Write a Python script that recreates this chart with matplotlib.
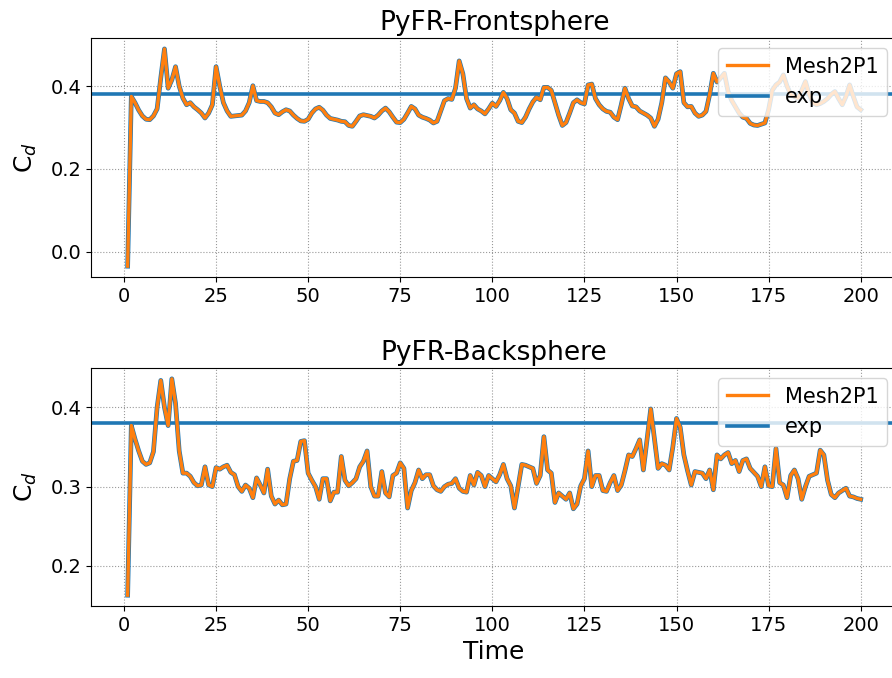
import numpy as np
import matplotlib
matplotlib.use("Agg")
import matplotlib.pyplot as plt

time = list(range(1, 201))

front_cd = [
    -0.035, 0.375, 0.360, 0.342, 0.328, 0.320, 0.319, 0.328, 0.345, 0.420,
    0.490, 0.395, 0.415, 0.447, 0.400, 0.371, 0.355, 0.360, 0.350, 0.343,
    0.335, 0.323, 0.335, 0.355, 0.447, 0.400, 0.360, 0.340, 0.327, 0.328,
    0.329, 0.330, 0.340, 0.360, 0.401, 0.365, 0.363, 0.363, 0.360, 0.350,
    0.335, 0.331, 0.338, 0.343, 0.340, 0.330, 0.322, 0.316, 0.315, 0.320,
    0.335, 0.345, 0.349, 0.342, 0.330, 0.322, 0.320, 0.318, 0.315, 0.314,
    0.305, 0.303, 0.315, 0.328, 0.331, 0.329, 0.327, 0.323, 0.330, 0.340,
    0.347, 0.338, 0.325, 0.313, 0.312, 0.320, 0.335, 0.351, 0.345, 0.330,
    0.325, 0.322, 0.318, 0.311, 0.315, 0.340, 0.365, 0.370, 0.368, 0.395,
    0.461, 0.430, 0.370, 0.347, 0.355, 0.345, 0.340, 0.333, 0.345, 0.359,
    0.351, 0.365, 0.385, 0.370, 0.343, 0.335, 0.315, 0.312, 0.325, 0.345,
    0.362, 0.373, 0.367, 0.397, 0.397, 0.390, 0.360, 0.330, 0.305, 0.312,
    0.335, 0.360, 0.367, 0.360, 0.357, 0.403, 0.405, 0.370, 0.355, 0.345,
    0.339, 0.337, 0.325, 0.319, 0.355, 0.395, 0.370, 0.352, 0.350, 0.340,
    0.335, 0.330, 0.323, 0.303, 0.320, 0.360, 0.420, 0.410, 0.395, 0.430,
    0.435, 0.360, 0.350, 0.351, 0.335, 0.327, 0.330, 0.339, 0.380, 0.431,
    0.410, 0.420, 0.431, 0.387, 0.365, 0.350, 0.335, 0.325, 0.322, 0.310,
    0.306, 0.305, 0.308, 0.311, 0.343, 0.390, 0.403, 0.410, 0.427, 0.400,
    0.380, 0.375, 0.371, 0.390, 0.411, 0.380, 0.360, 0.355, 0.358, 0.363,
    0.370, 0.380, 0.387, 0.370, 0.355, 0.375, 0.403, 0.375, 0.350, 0.343,
]

back_cd = [
    0.163, 0.377, 0.360, 0.345, 0.332, 0.328, 0.330, 0.344, 0.400, 0.434,
    0.400, 0.377, 0.436, 0.405, 0.345, 0.317, 0.317, 0.313, 0.305, 0.301,
    0.302, 0.325, 0.302, 0.300, 0.324, 0.322, 0.325, 0.327, 0.318, 0.315,
    0.300, 0.294, 0.302, 0.298, 0.286, 0.311, 0.302, 0.292, 0.322, 0.288,
    0.278, 0.283, 0.277, 0.278, 0.310, 0.332, 0.333, 0.357, 0.358, 0.317,
    0.308, 0.300, 0.284, 0.310, 0.310, 0.282, 0.293, 0.293, 0.338, 0.308,
    0.301, 0.305, 0.310, 0.325, 0.332, 0.345, 0.300, 0.288, 0.288, 0.319,
    0.292, 0.287, 0.314, 0.317, 0.330, 0.323, 0.273, 0.295, 0.305, 0.321,
    0.310, 0.315, 0.315, 0.301, 0.296, 0.294, 0.300, 0.303, 0.304, 0.310,
    0.298, 0.294, 0.293, 0.314, 0.302, 0.318, 0.314, 0.300, 0.314, 0.310,
    0.306, 0.315, 0.328, 0.310, 0.301, 0.273, 0.300, 0.328, 0.327, 0.325,
    0.323, 0.304, 0.314, 0.363, 0.321, 0.317, 0.280, 0.292, 0.288, 0.284,
    0.292, 0.272, 0.278, 0.301, 0.310, 0.345, 0.300, 0.314, 0.314, 0.295,
    0.294, 0.305, 0.314, 0.295, 0.302, 0.320, 0.340, 0.338, 0.348, 0.359,
    0.321, 0.360, 0.398, 0.360, 0.323, 0.329, 0.327, 0.321, 0.350, 0.386,
    0.375, 0.340, 0.320, 0.302, 0.319, 0.318, 0.317, 0.310, 0.321, 0.296,
    0.340, 0.335, 0.340, 0.343, 0.329, 0.333, 0.319, 0.333, 0.335, 0.323,
    0.318, 0.313, 0.300, 0.325, 0.301, 0.300, 0.348, 0.305, 0.302, 0.286,
    0.314, 0.321, 0.310, 0.284, 0.300, 0.313, 0.315, 0.317, 0.346, 0.340,
    0.308, 0.290, 0.286, 0.292, 0.295, 0.298, 0.288, 0.287, 0.285, 0.284,
]

exp_cd = 0.38
titles = ["PyFR-Frontsphere", "PyFR-Backsphere"]
series = [front_cd, back_cd]
xticks = [0, 25, 50, 75, 100, 125, 150, 175, 200]
yticks = [[0.0, 0.2, 0.4], [0.2, 0.3, 0.4]]

fig = plt.figure(figsize=(8.92, 6.78), dpi=100)
positions = [[0.102, 0.5914, 0.904, 0.3525], [0.102, 0.1062, 0.904, 0.351]]

for i in range(2):
    ax = fig.add_axes(positions[i])
    ax.plot(time, series[i], color="#1f77b4", lw=3.4, zorder=2)
    ax.plot(time, series[i], color="#ff7f0e", lw=2.4, label="Mesh2P1", zorder=3)
    ax.axhline(exp_cd, color="#1f77b4", lw=2.6, label="exp", zorder=2)
    ax.set_title(titles[i], fontsize=19)
    ax.set_ylabel(r"C$_d$", fontsize=18, labelpad=8)
    ax.set_xticks(xticks)
    ax.set_yticks(yticks[i])
    ax.tick_params(labelsize=14)
    ax.grid(True, linestyle=":", color="gray", alpha=0.8)
    ax.legend(loc="upper right", fontsize=15)
    if i == 1:
        ax.set_xlabel("Time", fontsize=18)

fig.savefig("out.png", dpi=100)
